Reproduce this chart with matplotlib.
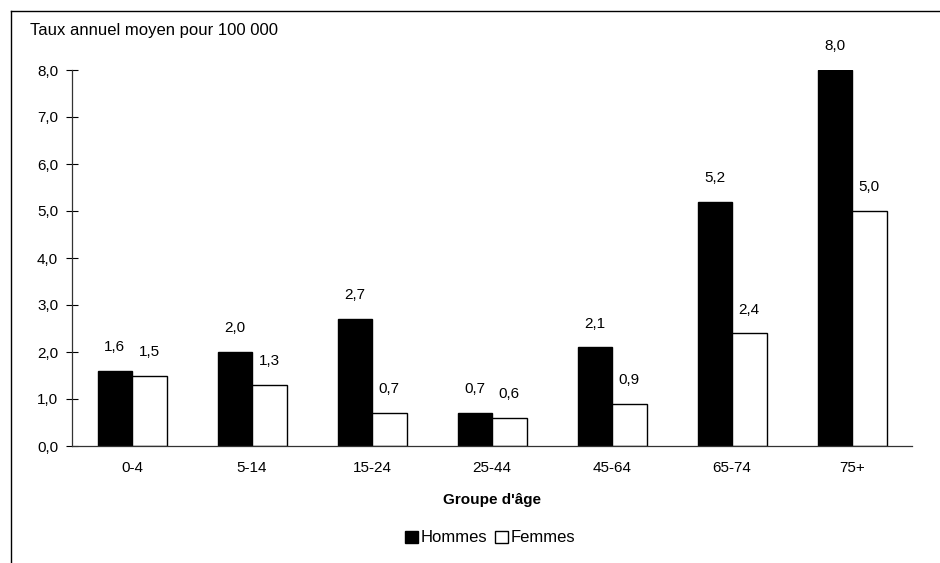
import numpy as np
import matplotlib.pyplot as plt
from matplotlib.lines import Line2D

plt.rcParams['font.family'] = ['Liberation Sans', 'DejaVu Sans']

groups = ['0-4', '5-14', '15-24', '25-44', '45-64', '65-74', '75+']
hommes = [1.6, 2.0, 2.7, 0.7, 2.1, 5.2, 8.0]
femmes = [1.5, 1.3, 0.7, 0.6, 0.9, 2.4, 5.0]

fig = plt.figure(figsize=(9.4, 5.63), dpi=100)
ax = fig.add_axes([72/940, 1-446/563, 840/940, (446-70)/563])

x = np.arange(len(groups))
w = 0.2875
b1 = ax.bar(x - w/2, hommes, w, color='black', edgecolor='black', linewidth=1, label='Hommes')
b2 = ax.bar(x + w/2, femmes, w, color='white', edgecolor='black', linewidth=1, label='Femmes')

def fmt(v):
    return ('%.1f' % v).replace('.', ',')

for bars, vals in ((b1, hommes), (b2, femmes)):
    for r, v in zip(bars, vals):
        ax.annotate(fmt(v), (r.get_x() + r.get_width()/2, v), xytext=(0, 12),
                    textcoords='offset points', ha='center', va='bottom', fontsize=11)

ax.set_xlim(-0.5, len(groups) - 0.5)
ax.set_ylim(0, 8)
ax.set_yticks(np.arange(0, 9))
ax.set_yticklabels([fmt(v) for v in range(9)], fontsize=11)
ax.set_xticks(x)
ax.set_xticklabels(groups, fontsize=11)
ax.tick_params(axis='x', length=0, pad=11)
ax.tick_params(axis='y', direction='inout', length=8, width=0.8, pad=6)
for s in ('top', 'right'):
    ax.spines[s].set_visible(False)
for s in ('left', 'bottom'):
    ax.spines[s].set_color('#333333')
    ax.spines[s].set_linewidth(0.9)

ax.set_xlabel("Groupe d'âge", fontsize=11, fontweight='bold', labelpad=13)
fig.text(30/940, 1-31/563, 'Taux annuel moyen pour 100 000', fontsize=12, va='center', ha='left')

fig.legend(handles=[b1, b2], loc='center', bbox_to_anchor=(490/940, 1-538/563), ncol=2,
           frameon=False, fontsize=12, handlelength=0.75, handleheight=0.75,
           handletextpad=0.15, columnspacing=0.5)

# open frame around the chart
fig.add_artist(Line2D([10.5/940, 10.5/940], [0, 1-11/563], color='black', lw=1))
fig.add_artist(Line2D([10.5/940, 1], [1-11/563, 1-11/563], color='black', lw=1))

fig.savefig('out.png', dpi=100)
